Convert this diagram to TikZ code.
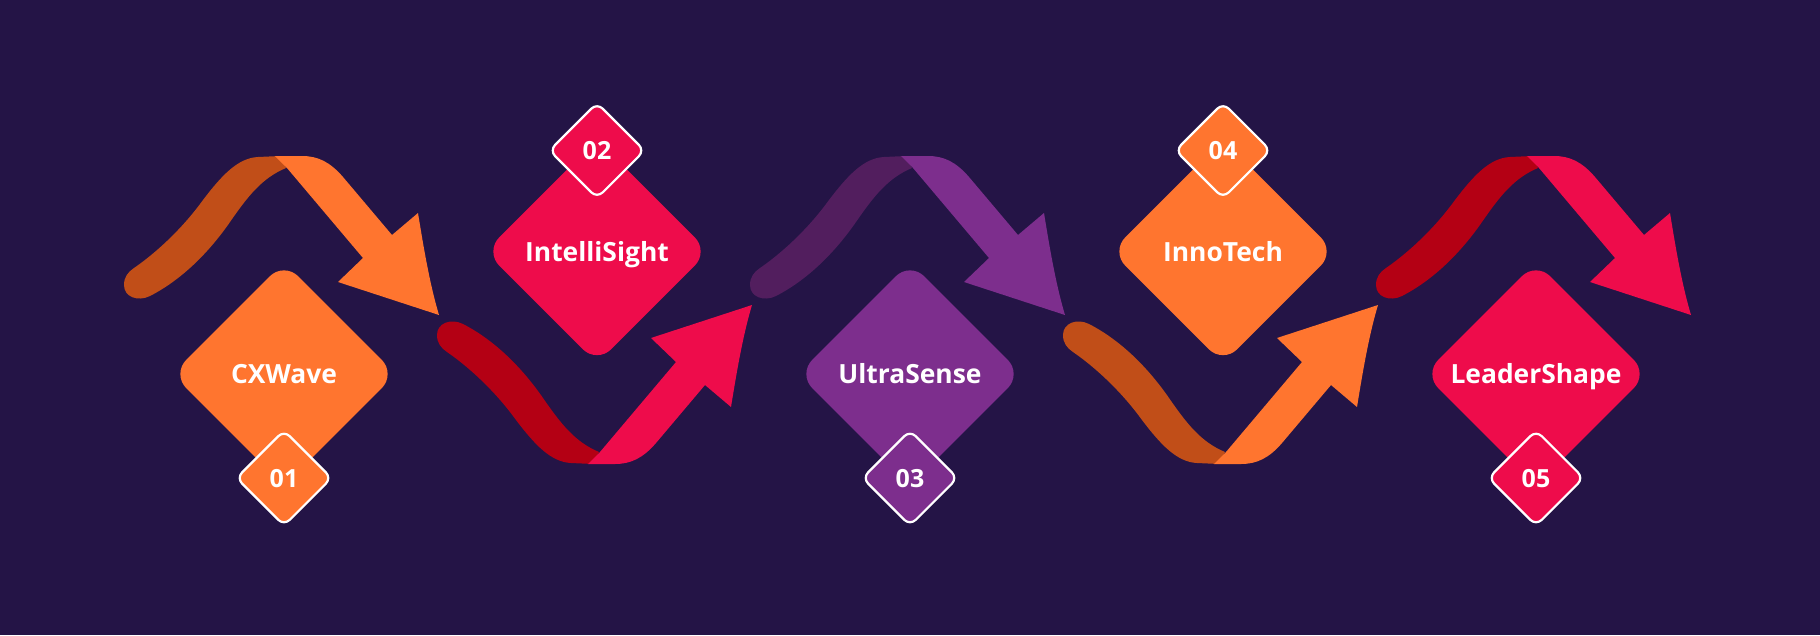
\documentclass[tikz,border=0pt]{standalone}
\usepackage{fontspec}
\setmainfont{Open Sans}
\usetikzlibrary{shapes.geometric}

\definecolor{nightbg}{RGB}{36,20,70}
\definecolor{orangefront}{RGB}{255,117,47}
\definecolor{orangefold}{RGB}{193,78,24}
\definecolor{crimsonfront}{RGB}{238,12,75}
\definecolor{crimsonfold}{RGB}{180,0,20}
\definecolor{purplefront}{RGB}{125,46,141}
\definecolor{purplefold}{RGB}{82,30,94}

% one folded ribbon arrow: #1 back part, #2 front part with head
\newcommand{\waveribbon}[2]{%
  \fill[#1] (286,168) .. controls (262,178) and (248,196) .. (230,222)
    .. controls (212,248) and (185,278) .. (150,296)
    .. controls (138,302) and (124,297) .. (124,285)
    .. controls (124,277) and (128,272) .. (134,268)
    .. controls (160,250) and (185,225) .. (203,200)
    .. controls (222,175) and (238,158) .. (258,157)
    -- (280,156) -- cycle;
  \fill[#2] (275,156) -- (302,156) .. controls (318,156) and (330,162) .. (343,177)
    -- (392,235) -- (418,213) .. controls (424,250) and (430,285) .. (439,315)
    -- (338,282) -- (363,258) -- (287,168) -- cycle;
}

\begin{document}
\begin{tikzpicture}[x=1pt,y=-1pt]
  \tikzset{
    bigdia/.style={diamond,aspect=1,minimum size=224pt,inner sep=0pt,
      rounded corners=20pt,text=white,font=\bfseries\fontsize{26.4}{26.4}\selectfont,
      text height=19pt,text depth=0pt},
    numtag/.style={diamond,aspect=1,minimum size=96pt,inner sep=0pt,
      rounded corners=8pt,draw=white,line width=2.2pt,text=white,
      font=\bfseries\fontsize{25}{25}\selectfont,text height=18pt,text depth=0pt}
  }
  \fill[nightbg] (0,0) rectangle (1820,635);

  % ribbons
  \waveribbon{orangefold}{orangefront}
  \begin{scope}[shift={(313,620)},yscale=-1]
    \waveribbon{crimsonfold}{crimsonfront}
  \end{scope}
  \begin{scope}[shift={(626,0)}]
    \waveribbon{purplefold}{purplefront}
  \end{scope}
  \begin{scope}[shift={(939,620)},yscale=-1]
    \waveribbon{orangefold}{orangefront}
  \end{scope}
  \begin{scope}[shift={(1252,0)}]
    \waveribbon{crimsonfold}{crimsonfront}
  \end{scope}

  % steps
  \node[bigdia,fill=orangefront] (cxwave) at (284,374) {CXWave};
  \node[bigdia,fill=crimsonfront] (intellisight) at (597,251.5) {IntelliSight};
  \node[bigdia,fill=purplefront] (ultrasense) at (910,374) {UltraSense};
  \node[bigdia,fill=orangefront] (innotech) at (1223,251.5) {InnoTech};
  \node[bigdia,fill=crimsonfront] (leadershape) at (1536,374) {LeaderShape};

  \node[numtag,fill=orangefront] (n01) at (284,478) {01};
  \node[numtag,fill=crimsonfront] (n02) at (597,150.5) {02};
  \node[numtag,fill=purplefront] (n03) at (910,478) {03};
  \node[numtag,fill=orangefront] (n04) at (1223,150.5) {04};
  \node[numtag,fill=crimsonfront] (n05) at (1536,478) {05};
\end{tikzpicture}
\end{document}
